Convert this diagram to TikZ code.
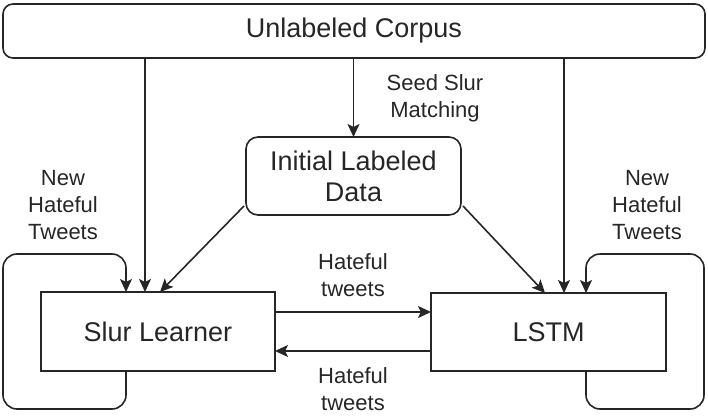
\documentclass[tikz,border=0pt]{standalone}
\usepackage{fontspec}
\setmainfont{Liberation Sans}
\usetikzlibrary{arrows.meta,calc}
\begin{document}
\begin{tikzpicture}[x=1pt,y=-1pt,
  every node/.style={inner sep=0pt,outer sep=0pt,text=black!85},
  box/.style={draw=black!85,line width=1.6pt,fill=white,font=\fontsize{27}{31}\selectfont,align=center},
  lbl/.style={font=\fontsize{22}{27}\selectfont,align=center},
  arr/.style={draw=black!85,line width=1.6pt,-{Stealth[length=13pt,width=12pt,inset=3pt]}}]
\useasboundingbox (0,0) rectangle (708,417);
\node[box,rounded corners=10pt,minimum width=702pt,minimum height=54pt] (corpus) at (354,31) {Unlabeled Corpus};
\node[box,rounded corners=12pt,minimum width=215pt,minimum height=78pt] (ild) at (353.5,176) {Initial Labeled\\Data};
\node[box,minimum width=234pt,minimum height=79pt] (slur) at (158,331.5) {Slur Learner};
\node[box,minimum width=235pt,minimum height=78pt] (lstm) at (548.5,332) {LSTM};
% labels
\node[lbl] (l1) at (63,205) {New\\Hateful\\Tweets};
\node[lbl] (l2) at (647,205) {New\\Hateful\\Tweets};
\node[lbl] (l3) at (435,98) {Seed Slur\\Matching};
\node[lbl] (l4) at (353,275) {Hateful\\tweets};
\node[lbl] (l5) at (353,389) {Hateful\\tweets};
% corpus arrows
\draw[arr] (145,0 |- corpus.south) -- (145,0 |- slur.north);
\draw[arr] (353.5,0 |- corpus.south) -- (ild.north);
\draw[arr] (564,0 |- corpus.south) -- (564,0 |- lstm.north);
% diagonals
\draw[arr] ($(ild.west)+(-2,30)$) -- (160,0 |- slur.north);
\draw[arr] ($(ild.east)+(2,30)$) -- (545,0 |- lstm.north);
% between
\draw[arr] (slur.east |- 0,312) -- (lstm.west |- 0,312);
\draw[arr] (lstm.west |- 0,351) -- (slur.east |- 0,351);
% loops
\draw[arr,rounded corners=14pt] (126,0 |- slur.south) -- (126,409) -- (3,409) -- (3,254) -- (126,254) -- (126,0 |- slur.north);
\draw[arr,rounded corners=14pt] (586,0 |- lstm.south) -- (586,409) -- (704,409) -- (704,254) -- (586,254) -- (586,0 |- lstm.north);
\end{tikzpicture}
\end{document}
